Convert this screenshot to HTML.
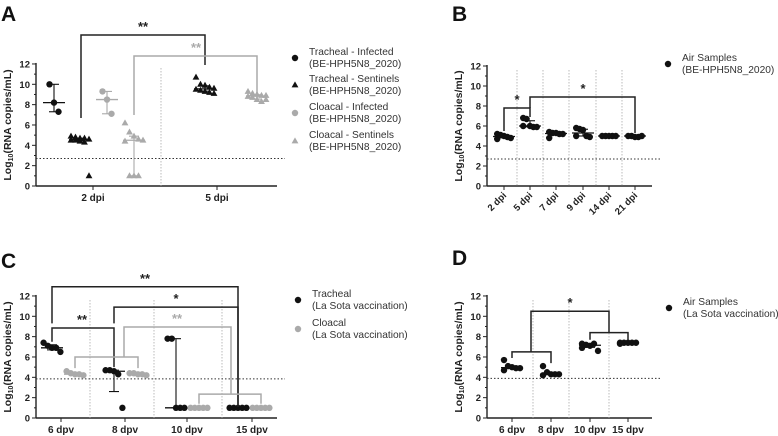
<!DOCTYPE html>
<html><head><meta charset="utf-8"><style>
html,body{margin:0;padding:0;background:#fff}
svg{display:block}
text{font-family:"Liberation Sans",sans-serif}
</style></head><body>
<svg id="fig" width="778" height="436" viewBox="0 0 778 436" xmlns="http://www.w3.org/2000/svg"></svg>
<script>
// ---------- Panel A data ----------
const aCats = ["2 dpi","5 dpi"];
const aTrInf2 = [10.0,8.2,7.3];
const aTrSen2 = [4.9,4.8,4.7,4.7,4.6,4.5,4.5,4.4,4.3,1.0];
const aClInf2 = [9.3,8.5,7.1];
const aClSen2 = [6.2,5.3,4.9,4.6,4.5,4.4,1.0,1.0,1.0];
const aTrSen5 = [10.7,10.0,9.9,9.7,9.6,9.5,9.4,9.3,9.2,9.1];
const aClSen5 = [9.3,9.1,9.0,8.9,8.9,8.8,8.7,8.5,8.3,8.5];
const aClSen2Err = [1.0,4.9];
const aLod = 2.7;
// ---------- Panel B data ----------
const bCats = ["2 dpi","5 dpi","7 dpi","9 dpi","14 dpi","21 dpi"];
const bAir = [[5.2,5.1,5.0,4.9,4.8,4.7],[6.8,6.7,6.0,5.9,5.9,6.0],[5.4,5.3,5.3,5.2,5.2,4.8],[5.8,5.7,5.6,5.0,4.9,5.0],[5.0,5.0,5.0,5.0,5.0],[5.0,5.0,4.9,4.9,5.0]];
const bLod = 2.7;
// ---------- Panel C data ----------
const cCats = ["6 dpv","8 dpv","10 dpv","15 dpv"];
const cTracheal = [[7.4,7.1,6.9,6.9,6.5],[4.7,4.7,4.6,4.3,1.0],[7.8,7.8,1.0,1.0,1.0],[1,1,1,1,1]];
const cCloacal = [[4.6,4.4,4.3,4.3,4.2],[4.4,4.4,4.3,4.3,4.2],[1,1,1,1,1],[1,1,1,1,1]];
const cTrErr = [[6.7,7.2],[2.6,4.7],[1.0,7.8],[1,1]];
const cLod = 3.85;
// ---------- Panel D data ----------
const dCats = ["6 dpv","8 dpv","10 dpv","15 dpv"];
const dAir = [[5.7,5.1,5.0,4.9,4.9,4.7],[5.1,4.5,4.3,4.3,4.3,4.2],[7.3,7.2,7.1,7.3,6.6,6.9],[7.4,7.4,7.4,7.4,7.4,7.3]];
const dLod = 3.9;
const yTicks = [0,2,4,6,8,10,12];

const NS="http://www.w3.org/2000/svg";
const svg=document.getElementById('fig');
function el(tag,attrs,parent){const e=document.createElementNS(NS,tag);for(const k in attrs)e.setAttribute(k,attrs[k]);(parent||svg).appendChild(e);return e;}
const BLK="#111", GRY="#aaaaaa";

function quant(a,q){const s=[...a].sort((x,y)=>x-y);const pos=(s.length-1)*q;const lo=Math.floor(pos),hi=Math.ceil(pos);return s[lo]+(s[hi]-s[lo])*(pos-lo);}

function makeAxes(p){
  const g=el('g',{});
  
  
  const y=v=>p.y0-v*p.k;
  el('line',{x1:p.x0,y1:y(12)-1,x2:p.x0,y2:p.y0,stroke:"#222","stroke-width":1.4},g);
  el('line',{x1:p.x0,y1:p.y0,x2:p.x1,y2:p.y0,stroke:"#222","stroke-width":1.4},g);
  for(let v=0;v<=12;v++){
    el('line',{x1:p.x0-(v%2?2:4),y1:y(v),x2:p.x0,y2:y(v),stroke:"#222","stroke-width":1},g);
  }
  yTicks.forEach(v=>{const t=el('text',{x:p.x0-6,y:y(v)+3.5,"text-anchor":"end","font-size":9.5,"font-weight":"bold",fill:"#222"},g);t.textContent=v;
    });
  const ty=el('text',{transform:`translate(${p.x0-25},${y(6)}) rotate(-90)`,"text-anchor":"middle","font-size":10.5,"font-weight":"bold",fill:"#222"},g);
  
  ty.innerHTML='Log<tspan font-size="7" dy="2">10</tspan><tspan dy="-2">(RNA copies/mL)</tspan>';
  p.divs.forEach(x=>el('line',{x1:x,y1:y(11.6),x2:x,y2:p.y0,stroke:"#aaa","stroke-width":0.8,"stroke-dasharray":"1.5,1.5"},g));
  const l=el('line',{x1:p.x0,y1:y(p.lod),x2:p.x1+8,y2:y(p.lod),stroke:"#333","stroke-width":1,"stroke-dasharray":"1.5,2"},g);
  
  p.ticks.forEach((x,i)=>{
    el('line',{x1:x,y1:p.y0,x2:x,y2:p.y0+4,stroke:"#222","stroke-width":1},g);
    let t;
    if(p.rot){t=el('text',{transform:`translate(${x+3},${p.y0+10}) rotate(-45)`,"text-anchor":"end","font-size":9.5,"font-weight":"bold",fill:"#222"},g);}
    else t=el('text',{x:x,y:p.y0+15,"text-anchor":"middle","font-size":10,"font-weight":"bold",fill:"#222"},g);
    t.textContent=p.cats[i];
    
  });
  return y;
}
function marker(x,yy,shape,color,g){
  let m;
  if(shape==='tri') m=el('path',{d:`M${x},${yy-3.6}L${x+3.4},${yy+2.4}L${x-3.4},${yy+2.4}Z`,fill:color},g);
  else m=el('circle',{cx:x,cy:yy,r:3.2,fill:color},g);
  
}
function group(cx,vals,y,shape,color,name,err,spread){
  const g=el('g',{});
  
  
  const sp=spread||4.5;const n=vals.length;const per=Math.min(n,5);
  vals.forEach((v,i)=>{const col=i%per;const off=(col-(per-1)/2)*sp;marker(cx+off,y(v),shape,color,g);});
  const md=quant(vals,0.5);
  const lo=err?err[0]:quant(vals,0.25), hi=err?err[1]:quant(vals,0.75);
  el('line',{x1:cx-11,y1:y(md),x2:cx+11,y2:y(md),stroke:color,"stroke-width":1.3},g);
  el('line',{x1:cx,y1:y(lo),x2:cx,y2:y(hi),stroke:color,"stroke-width":1.1},g);
  el('line',{x1:cx-5,y1:y(lo),x2:cx+5,y2:y(lo),stroke:color,"stroke-width":1.1},g);
  el('line',{x1:cx-5,y1:y(hi),x2:cx+5,y2:y(hi),stroke:color,"stroke-width":1.1},g);
}
function bracket(xa,ya,xb,yb,ytop,color,stars,sx,name){
  const g=el('g',{});
  
  
  el('path',{d:`M${xa},${ya}V${ytop}H${xb}V${yb}`,fill:"none",stroke:color,"stroke-width":1.5},g);
  const t=el('text',{x:sx,y:ytop-4,"text-anchor":"middle","font-size":13,"font-weight":"bold",fill:color},g);
  t.textContent=stars;
}
function legend(x,yy,shape,color,lines){
  const g=el('g',{});
  
  
  marker(x,yy+3,shape,color,g);
  lines.forEach((s,i)=>{const t=el('text',{x:x+14,y:yy+i*12,"font-size":10.2,fill:"#333"},g);t.textContent=s;});
}
function label(x,yy,s){const t=el('text',{x:x,y:yy,"font-size":21,"font-weight":"bold",fill:"#111"});t.textContent=s;
  }

// ---------- A ----------
label(1,21,"A");
let yA=makeAxes({name:'panel-a',x0:36,y0:186,k:10.17,x1:277,ticks:[93,217],cats:aCats,divs:[161],lod:aLod});
group(54,aTrInf2,yA,'circ',BLK,'tracheal-infected-2dpi',[Math.min(...aTrInf2),Math.max(...aTrInf2)]);
group(80,aTrSen2,yA,'tri',BLK,'tracheal-sentinels-2dpi');
group(107,aClInf2,yA,'circ',GRY,'cloacal-infected-2dpi',[Math.min(...aClInf2),Math.max(...aClInf2)]);
group(134,aClSen2,yA,'tri',GRY,'cloacal-sentinels-2dpi',aClSen2Err);
group(205,aTrSen5,yA,'tri',BLK,'tracheal-sentinels-5dpi');
group(257,aClSen5,yA,'tri',GRY,'cloacal-sentinels-5dpi');
bracket(81,118,205,65,35,"#222","**",143,'bracket-a-tracheal');
bracket(134,115,257,98,56,GRY,"**",196,'bracket-a-cloacal');
legend(295,55,'circ',BLK,["Tracheal - Infected","(BE-HPH5N8_2020)"]);
legend(295,82,'tri',BLK,["Tracheal - Sentinels"," (BE-HPH5N8_2020)"]);
legend(295,110,'circ',GRY,["Cloacal - Infected","(BE-HPH5N8_2020)"]);
legend(295,138,'tri',GRY,["Cloacal - Sentinels","(BE-HPH5N8_2020)"]);

// ---------- B ----------
label(452,21,"B");
const bTicks=[504,530,556,583,609,635];
let yB=makeAxes({name:'panel-b',x0:487,y0:186,k:10,x1:652,ticks:bTicks,cats:bCats,divs:[517,543,569,596,622],lod:bLod,rot:true});
bAir.forEach((v,i)=>group(bTicks[i],v,yB,'circ',BLK,'air-'+bCats[i].replace(' ',''),null,3.4));
bracket(504,yB(5.5),530,yB(6.9),yB(7.8),"#222","*",517,'bracket-b-2-5');
bracket(530,yB(7.8),635,yB(5.3),yB(8.9),"#222","*",583,'bracket-b-5-21');
legend(668,61,'circ',BLK,["Air Samples","(BE-HPH5N8_2020)"]);

// ---------- C ----------
label(1,268,"C");
let yC=makeAxes({name:'panel-c',x0:36,y0:418,k:10.17,x1:277,ticks:[61,125,187,252],cats:cCats,divs:[90,154,222],lod:cLod});
const cTrX=[52,114,176,238], cClX=[75,138,199,261];
cTracheal.forEach((v,i)=>group(cTrX[i],v,yC,'circ',BLK,'tracheal-'+cCats[i].replace(' ',''),cTrErr[i],4.2));
cCloacal.forEach((v,i)=>group(cClX[i],v,yC,'circ',GRY,'cloacal-'+cCats[i].replace(' ',''),null,4.2));
bracket(52,yC(9.3),238,yC(1.1),yC(12.9),"#222","**",145,'bracket-c-6-15');
bracket(114,yC(9.3),238,yC(1.3),yC(10.9),"#222","*",176,'bracket-c-8-15');
bracket(52,yC(7.5),114,yC(5.0),yC(8.85),"#222","**",82,'bracket-c-6-8');
bracket(75,yC(4.9),138,yC(4.9),yC(6.0),GRY,"",106,'bracket-c-cl-6-8');
bracket(124,yC(6.0),231,yC(2.35),yC(8.95),GRY,"**",177,'bracket-c-cl-big');
bracket(199,yC(1.4),261,yC(1.4),yC(2.35),GRY,"",230,'bracket-c-cl-10-15');
legend(298,297,'circ',BLK,["Tracheal","(La Sota vaccination)"]);
legend(298,326,'circ',GRY,["Cloacal","(La Sota vaccination)"]);

// ---------- D ----------
label(452,265,"D");
const dTicks=[512,551,590,628];
let yD=makeAxes({name:'panel-d',x0:487,y0:418,k:10.17,x1:652,ticks:dTicks,cats:dCats,divs:[533,569,609],lod:dLod});
dAir.forEach((v,i)=>group(dTicks[i],v,yD,'circ',BLK,'air-'+dCats[i].replace(' ',''),null,4));
bracket(512,yD(5.9),551,yD(5.4),yD(6.5),"#222","",531,'bracket-d-6-8');
bracket(590,yD(7.7),628,yD(7.7),yD(8.4),"#222","",609,'bracket-d-10-15');
bracket(531,yD(6.5),609,yD(8.4),yD(10.5),"#222","*",570,'bracket-d-big');
legend(669,305,'circ',BLK,["Air Samples","(La Sota vaccination)"]);
</script>
</body></html>
